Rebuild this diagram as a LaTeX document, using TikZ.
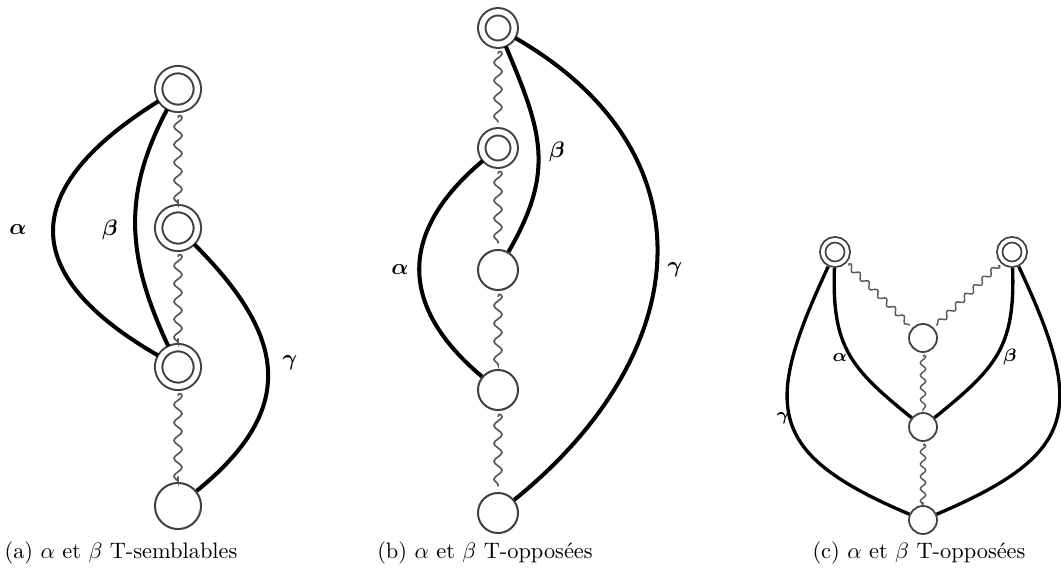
\documentclass[tikz,border=0pt]{standalone}
\usetikzlibrary{decorations.pathmorphing}
\begin{document}
\begin{tikzpicture}
  [x=0.447pt, y=0.447pt,
   etat/.style={circle, draw=black!75, line width=0.9pt, inner sep=0pt, minimum size=#1},
   final/.style={etat=#1, double, double distance=2.4pt, outer sep=1.7pt},
   lien/.style={line width=1.8pt},
   onde/.style={draw=black!65, line width=0.75pt, decorate,
     decoration={snake, segment length=8pt, amplitude=1.8pt},
     shorten <=2.5pt, shorten >=2.5pt},
   lbl/.style={font=\boldmath}]
  \useasboundingbox (0,0) rectangle (1061,577);
  % (a)
  \node[final=17.3pt] (a1) at (178,488) {};
  \node[final=17.3pt] (a2) at (178,349) {};
  \node[final=17.3pt] (a3) at (178,210) {};
  \node[etat=20.6pt] (a4) at (178,71) {};
  \draw[onde] (a1) -- (a2);
  \draw[onde] (a2) -- (a3);
  \draw[onde] (a3) -- (a4);
  \draw[lien] (a1) to[out=212, in=150, looseness=1.65] (a3);
  \draw[lien] (a1) to[out=242, in=115, looseness=1.05] (a3);
  \draw[lien] (a2) to[out=315, in=39, looseness=1.35] (a4);
  \node[lbl] (la) at (18,347) {$\alpha$};
  \node[lbl] (lb) at (110,347) {$\beta$};
  \node[lbl] (lg) at (290,214) {$\gamma$};
  \node (capa) at (121,24) {(a) $\alpha$ et $\beta$ T-semblables};
  % (b)
  \node[final=14.5pt] (b1) at (498,549) {};
  \node[final=14.5pt] (b2) at (498,429) {};
  \node[etat=17.9pt] (b3) at (498,307) {};
  \node[etat=17.9pt] (b4) at (498,187) {};
  \node[etat=17.9pt] (b5) at (498,64) {};
  \draw[onde] (b1) -- (b2);
  \draw[onde] (b2) -- (b3);
  \draw[onde] (b3) -- (b4);
  \draw[onde] (b4) -- (b5);
  \draw[lien] (b2) to[out=220, in=140, looseness=1.3] (b4);
  \draw[lien] (b1) to[out=293, in=60, looseness=1.16] (b3);
  \draw[lien] (b1) to[out=330, in=39, looseness=1.28] (b5);
  \node[lbl] (lb-a) at (400,307) {$\alpha$};
  \node[lbl] (lb-b) at (557,425) {$\beta$};
  \node[lbl] (lb-g) at (675,307) {$\gamma$};
  \node (capb) at (485,24) {(b) $\alpha$ et $\beta$ T-opposées};
  % (c)
  \begin{scope}[lien/.style={line width=1.5pt},
     onde/.style={draw=black!65, line width=0.65pt, decorate,
       decoration={snake, segment length=5.5pt, amplitude=1.2pt},
       shorten <=1.5pt, shorten >=1.5pt}]
  \node[final=11pt, line width=0.8pt, double distance=1.6pt] (c1) at (835,325) {};
  \node[final=11pt, line width=0.8pt, double distance=1.6pt] (c2) at (1012,325) {};
  \node[etat=12.5pt, line width=0.8pt] (c3) at (923,239) {};
  \node[etat=12.5pt, line width=0.8pt] (c4) at (923,150) {};
  \node[etat=12.5pt, line width=0.8pt] (c5) at (923,57) {};
  \draw[onde] (c1) -- (c3);
  \draw[onde] (c2) -- (c3);
  \draw[onde] (c3) -- (c4);
  \draw[onde] (c4) -- (c5);
  \draw[lien] (c1) to[out=268, in=141, looseness=1.2] (c4);
  \draw[lien] (c2) to[out=272, in=39, looseness=1.2] (c4);
  \draw[lien] (c1) to[out=245, in=157, looseness=1.53] (c5);
  \draw[lien] (c2) to[out=295, in=23, looseness=1.53] (c5);
  \node[lbl, font=\footnotesize\boldmath] (lc-a) at (840,219) {$\alpha$};
  \node[lbl, font=\footnotesize\boldmath] (lc-b) at (1010,220) {$\beta$};
  \node[lbl, font=\footnotesize\boldmath] (lc-g) at (783,159) {$\gamma$};
  \end{scope}
  \node (capc) at (919,24) {(c) $\alpha$ et $\beta$ T-opposées};
\end{tikzpicture}
\end{document}
